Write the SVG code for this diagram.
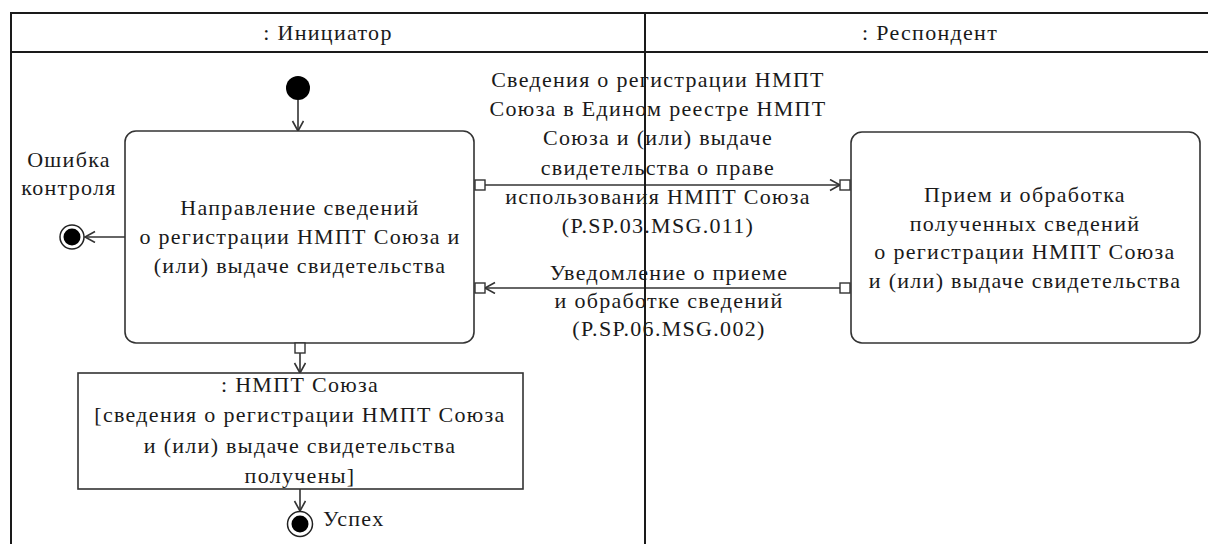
<svg xmlns="http://www.w3.org/2000/svg" width="1208" height="544" viewBox="0 0 1208 544">
<style>
text{font-family:"Liberation Serif","Times New Roman",serif;font-size:22px;fill:#1a1a1a;letter-spacing:1.3px;text-anchor:middle}
.frame{stroke:#1a1a1a;stroke-width:2;fill:none}
.box{fill:#fff;stroke:#333;stroke-width:1.6}
.pin{fill:#fff;stroke:#333;stroke-width:1.4}
.edge{stroke:#333;stroke-width:1.6;fill:none;marker-end:url(#arr)}
.start{fill:#000}
.endo{fill:#fff;stroke:#222;stroke-width:1.5}
.endi{fill:#000}
</style>
<defs>
<marker id="arr" markerUnits="userSpaceOnUse" markerWidth="14" markerHeight="14" refX="11" refY="6" orient="auto" viewBox="0 0 14 14">
<path d="M1,0.5 L11,6 L1,11.5" fill="none" stroke="#333" stroke-width="1.6"/>
</marker>
</defs>
<rect width="1208" height="544" fill="#fff"/>

<g id="connectors">
<line class="edge" x1="298" y1="100" x2="298" y2="131"/>
<line class="edge" x1="125" y1="237" x2="85" y2="237"/>
<line class="edge" x1="485" y1="185" x2="840" y2="185"/>
<line class="edge" x1="840" y1="288" x2="485" y2="288"/>
<line class="edge" x1="300" y1="353" x2="300" y2="373"/>
<line class="edge" x1="300" y1="489" x2="300" y2="511"/>
<g id="label-flow1">
<text x="658" y="87">Сведения о регистрации НМПТ</text>
<text x="658" y="116">Союза в Едином реестре НМПТ</text>
<text x="658" y="145">Союза и (или) выдаче</text>
<text x="658" y="175">свидетельства о праве</text>
<text x="658" y="204">использования НМПТ Союза</text>
<text x="658" y="233">(P.SP.03.MSG.011)</text>
</g>
<g id="label-flow2">
<text x="669" y="280">Уведомление о приеме</text>
<text x="669" y="308">и обработке сведений</text>
<text x="669" y="336">(P.SP.06.MSG.002)</text>
</g>
</g>

<g id="initial">
<circle class="start" cx="298" cy="88" r="12"/>
</g>

<g id="action-send">
<rect class="box" x="125" y="131" width="349" height="212" rx="11"/>
<text x="300" y="215">Направление сведений</text>
<text x="300" y="244">о регистрации НМПТ Союза и</text>
<text x="300" y="273">(или) выдаче свидетельства</text>
<rect class="pin" x="475" y="180" width="10" height="10"/>
<rect class="pin" x="475" y="283" width="10" height="10"/>
<rect class="pin" x="295" y="343" width="10" height="10"/>
</g>

<g id="action-receive">
<rect class="box" x="851" y="132" width="349" height="211" rx="11"/>
<text x="1025" y="202">Прием и обработка</text>
<text x="1025" y="231">полученных  сведений</text>
<text x="1025" y="259">о регистрации НМПТ Союза</text>
<text x="1025" y="288">и (или) выдаче свидетельства</text>
<rect class="pin" x="840" y="180" width="10" height="10"/>
<rect class="pin" x="840" y="283" width="10" height="10"/>
</g>

<g id="final-error">
<circle class="endo" cx="72" cy="237" r="12"/>
<circle class="endi" cx="72" cy="237" r="8.5"/>
<text x="69" y="167">Ошибка</text>
<text x="69" y="195">контроля</text>
</g>

<g id="object-node">
<rect class="box" x="78" y="373" width="445" height="116"/>
<text x="300" y="392">: НМПТ Союза</text>
<text x="300" y="422">[сведения о регистрации НМПТ Союза</text>
<text x="300" y="453">и (или) выдаче свидетельства</text>
<text x="300" y="483">получены]</text>
</g>

<g id="final-success">
<circle class="endo" cx="300" cy="524" r="12.5"/>
<circle class="endi" cx="300" cy="524" r="8.5"/>
<text x="323" y="526" style="text-anchor:start">Успех</text>
</g>

<g id="frame">
<line class="frame" x1="11" y1="13" x2="1208" y2="13"/>
<line class="frame" x1="11" y1="52" x2="1208" y2="52"/>
<line class="frame" x1="11" y1="12" x2="11" y2="544"/>
<line class="frame" x1="645" y1="12" x2="645" y2="544"/>
<text x="328" y="40">: Инициатор</text>
<text x="930" y="40">: Респондент</text>
</g>
</svg>
